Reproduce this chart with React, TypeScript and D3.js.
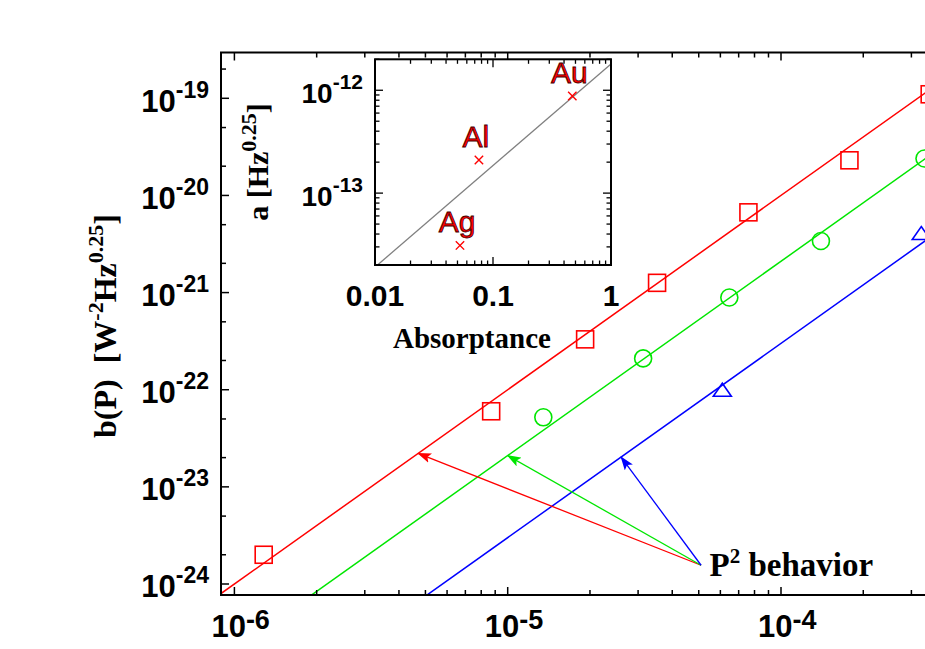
import React, { useRef, useEffect } from "react";
import * as d3 from "d3";

// main plot: b(P) for Au (red squares), Al (green circles), Ag (blue triangles)
const redP = [1.28e-6, 8.7e-6, 1.92e-5, 3.52e-5, 7.6e-5, 1.78e-4, 3.5e-4];
const redB = [2.0e-24, 6.0e-23, 3.3e-22, 1.26e-21, 6.7e-21, 2.3e-20, 1.1e-19];
const greenP = [1.35e-5, 3.13e-5, 6.47e-5, 1.4e-4, 3.35e-4];
const greenB = [5.2e-23, 2.1e-22, 8.9e-22, 3.4e-21, 2.4e-20];
const blueP = [6.1e-5, 3.26e-4];
const blueB = [1.0e-22, 4.1e-21];

// P^2 fits, b = coef * P^2
const fitCoef = [1.0e-12, 2.1e-13, 3.0e-14];
const arrowTipP = [4.7e-6, 1.0e-5, 2.6e-5];
const arrowFromP = 5.1e-5;
const arrowFromB = 1.56e-24;

const xTickExp = [-6, -5, -4];
const yTickExp = [-19, -20, -21, -22, -23, -24];

// inset: a vs absorptance
const metals = ["Ag", "Al", "Au"];
const absorptance = [0.0525, 0.076, 0.47];
const aValue = [3.1e-14, 2.1e-13, 8.8e-13];
const insetFitA = [0.0105, 1];
const insetFitVal = [2.0e-14, 1.8e-12];
const insetXTicks = [0.01, 0.1, 1];
const insetYExp = [-12, -13];

const colors = ["#ff0000", "#00e600", "#0000ff"];

function App() {
  const svgRef = useRef(null);

  useEffect(() => {
    const svg = d3.select(svgRef.current);
    svg.selectAll("*").remove();

    const sans = "'Liberation Sans', Arial, sans-serif";
    const serif = "'Liberation Serif', 'Times New Roman', serif";

    /* ---------- main scales ---------- */
    const left = 221, top = 52.5, bottom = 595, right = 980;
    const x = d3.scaleLog().domain([1e-6, 1e-4]).range([234.4, 781]);
    const y = d3.scaleLog().domain([1e-24, 1e-19]).range([584, 98.3]);

    const defs = svg.append("defs");
    defs
      .append("clipPath")
      .attr("id", "plot-clip")
      .append("rect")
      .attr("x", left)
      .attr("y", top)
      .attr("width", right - left)
      .attr("height", bottom - top);

    colors.forEach((c, i) => {
      defs
        .append("marker")
        .attr("id", `arrow-${i}`)
        .attr("markerUnits", "userSpaceOnUse")
        .attr("viewBox", "0 0 14 10")
        .attr("refX", 13)
        .attr("refY", 5)
        .attr("markerWidth", 14)
        .attr("markerHeight", 10)
        .attr("orient", "auto")
        .append("path")
        .attr("d", "M0,0 L14,5 L0,10 L3,5 Z")
        .attr("fill", c);
    });

    const powLabel = (g, px, py, exp, o) => {
      const t = g
        .append("text")
        .attr("x", px)
        .attr("y", py)
        .attr("text-anchor", o.anchor)
        .attr("font-family", sans)
        .attr("font-weight", "bold")
        .attr("fill", "#000");
      t.append("tspan").attr("font-size", o.base).text("10");
      t.append("tspan")
        .attr("font-size", o.sup)
        .attr("dy", -o.rise)
        .text(`-${Math.abs(exp)}`);
    };

    /* ---------- fit lines ---------- */
    const plot = svg.append("g").attr("clip-path", "url(#plot-clip)");
    const pEnds = [x.invert(left), x.invert(right)];
    fitCoef.forEach((k, i) => {
      const line = d3
        .line()
        .x((p) => x(p))
        .y((p) => y(k * p * p));
      plot
        .append("path")
        .attr("d", line(pEnds))
        .attr("fill", "none")
        .attr("stroke", colors[i])
        .attr("stroke-width", 1.5);
    });

    /* ---------- markers ---------- */
    const s = 8.5;
    svg
      .append("g")
      .selectAll("rect")
      .data(redP.map((p, i) => [p, redB[i]]))
      .enter()
      .append("rect")
      .attr("x", (d) => x(d[0]) - s)
      .attr("y", (d) => y(d[1]) - s)
      .attr("width", 2 * s)
      .attr("height", 2 * s)
      .attr("fill", "none")
      .attr("stroke", colors[0])
      .attr("stroke-width", 1.6);

    svg
      .append("g")
      .selectAll("circle")
      .data(greenP.map((p, i) => [p, greenB[i]]))
      .enter()
      .append("circle")
      .attr("cx", (d) => x(d[0]))
      .attr("cy", (d) => y(d[1]))
      .attr("r", s)
      .attr("fill", "none")
      .attr("stroke", colors[1])
      .attr("stroke-width", 1.6);

    svg
      .append("g")
      .selectAll("path")
      .data(blueP.map((p, i) => [p, blueB[i]]))
      .enter()
      .append("path")
      .attr("transform", (d) => `translate(${x(d[0])},${y(d[1])})`)
      .attr("d", "M0,-6.5 L9,6.5 L-9,6.5 Z")
      .attr("fill", "none")
      .attr("stroke", colors[2])
      .attr("stroke-width", 1.6);

    /* ---------- arrows + annotation ---------- */
    const ox = x(arrowFromP), oy = y(arrowFromB);
    arrowTipP.forEach((p, i) => {
      svg
        .append("line")
        .attr("x1", ox)
        .attr("y1", oy)
        .attr("x2", x(p))
        .attr("y2", y(fitCoef[i] * p * p))
        .attr("stroke", colors[i])
        .attr("stroke-width", 1.3)
        .attr("marker-end", `url(#arrow-${i})`);
    });
    const ann = svg
      .append("text")
      .attr("x", ox + 8.5)
      .attr("y", oy + 11)
      .attr("font-family", serif)
      .attr("font-weight", "bold")
      .attr("font-size", 33);
    ann.append("tspan").text("P");
    ann.append("tspan").attr("font-size", 21).attr("dy", -13).text("2");
    ann.append("tspan").attr("dy", 13).text("\u00a0behavior");

    /* ---------- main frame + ticks ---------- */
    svg
      .append("rect")
      .attr("x", left)
      .attr("y", top)
      .attr("width", right - left)
      .attr("height", bottom - top)
      .attr("fill", "none")
      .attr("stroke", "#000")
      .attr("stroke-width", 2);

    const xTicks = [];
    d3.range(-7, -2).forEach((e) =>
      d3.range(1, 10).forEach((m) => {
        const v = m * Math.pow(10, e);
        if (x(v) > left + 1 && x(v) < 930) xTicks.push({ v, major: m === 1 });
      })
    );
    const yTicks = [];
    d3.range(-25, -18).forEach((e) =>
      [1, 2, 5].forEach((m) => {
        const v = m * Math.pow(10, e);
        if (y(v) > top + 1 && y(v) < bottom - 1) yTicks.push({ v, major: m === 1 });
      })
    );

    const tickG = svg.append("g").attr("stroke", "#000").attr("stroke-width", 1.5);
    xTicks.forEach((t) => {
      const len = t.major ? 8 : 5;
      tickG.append("line").attr("x1", x(t.v)).attr("x2", x(t.v)).attr("y1", bottom).attr("y2", bottom - len);
      tickG.append("line").attr("x1", x(t.v)).attr("x2", x(t.v)).attr("y1", top).attr("y2", top + len);
    });
    yTicks.forEach((t) => {
      const len = t.major ? 8 : 5;
      tickG.append("line").attr("x1", left).attr("x2", left + len).attr("y1", y(t.v)).attr("y2", y(t.v));
    });

    xTickExp.forEach((e) =>
      powLabel(svg, x(Math.pow(10, e)) - 23, 637, e, { anchor: "start", base: 31, sup: 27, rise: 8 })
    );
    yTickExp.forEach((e) =>
      powLabel(svg, 209, y(Math.pow(10, e)) + 13.4, e, { anchor: "end", base: 31, sup: 23, rise: 14 })
    );

    const yTitle = svg
      .append("text")
      .attr("transform", "translate(116,326) rotate(-90)")
      .attr("text-anchor", "middle")
      .attr("font-family", serif)
      .attr("font-weight", "bold")
      .attr("font-size", 32);
    yTitle.append("tspan").text("b(P)\u00a0\u00a0[W");
    yTitle.append("tspan").attr("font-size", 22).attr("dy", -13).text("-2");
    yTitle.append("tspan").attr("dy", 13).text("Hz");
    yTitle.append("tspan").attr("font-size", 22).attr("dy", -13).text("0.25");
    yTitle.append("tspan").attr("dy", 13).text("]");

    /* ---------- inset ---------- */
    const iL = 375, iR = 611, iT = 59.3, iB = 265;
    const xi = d3.scaleLog().domain([0.01, 1]).range([iL, iR]);
    const yi = d3.scaleLog().domain([2e-14, 2e-12]).range([iB, iT]);

    svg
      .append("rect")
      .attr("x", iL)
      .attr("y", iT)
      .attr("width", iR - iL)
      .attr("height", iB - iT)
      .attr("fill", "#fff");

    svg
      .append("path")
      .attr("d", d3.line().x((d) => xi(d[0])).y((d) => yi(d[1]))(insetFitA.map((a, i) => [a, insetFitVal[i]])))
      .attr("stroke", "#808080")
      .attr("stroke-width", 1.3)
      .attr("fill", "none");

    const cr = 4.2;
    absorptance.forEach((a, i) => {
      const cx = xi(a), cy = yi(aValue[i]);
      svg
        .append("path")
        .attr("d", `M${cx - cr},${cy - cr}L${cx + cr},${cy + cr}M${cx - cr},${cy + cr}L${cx + cr},${cy - cr}`)
        .attr("stroke", "#ff0000")
        .attr("stroke-width", 1.4);
      svg
        .append("text")
        .attr("x", cx - 3)
        .attr("y", cy - 13)
        .attr("text-anchor", "middle")
        .attr("font-family", sans)
        .attr("font-size", 30)
        .attr("fill", "#ff0000")
        .attr("stroke", "#400000")
        .attr("stroke-width", 0.8)
        .text(metals[i]);
    });

    svg
      .append("rect")
      .attr("x", iL)
      .attr("y", iT)
      .attr("width", iR - iL)
      .attr("height", iB - iT)
      .attr("fill", "none")
      .attr("stroke", "#000")
      .attr("stroke-width", 2);

    const iTickG = svg.append("g").attr("stroke", "#000").attr("stroke-width", 1.3);
    d3.range(-2, 1).forEach((e) =>
      d3.range(1, 10).forEach((m) => {
        const v = m * Math.pow(10, e);
        if (v > 1) return;
        const len = m === 1 ? 8 : 4.5;
        iTickG.append("line").attr("x1", xi(v)).attr("x2", xi(v)).attr("y1", iB).attr("y2", iB - len);
        iTickG.append("line").attr("x1", xi(v)).attr("x2", xi(v)).attr("y1", iT).attr("y2", iT + len);
      })
    );
    d3.range(-14, -11).forEach((e) =>
      d3.range(1, 10).forEach((m) => {
        const v = m * Math.pow(10, e);
        if (v < 2e-14 || v > 2e-12) return;
        const len = m === 1 ? 8 : 4.5;
        iTickG.append("line").attr("x1", iL).attr("x2", iL + len).attr("y1", yi(v)).attr("y2", yi(v));
        iTickG.append("line").attr("x1", iR).attr("x2", iR - len).attr("y1", yi(v)).attr("y2", yi(v));
      })
    );

    insetXTicks.forEach((v) =>
      svg
        .append("text")
        .attr("x", xi(v))
        .attr("y", 306)
        .attr("text-anchor", "middle")
        .attr("font-family", sans)
        .attr("font-weight", "bold")
        .attr("font-size", 30)
        .text(String(v))
    );
    insetYExp.forEach((e) =>
      powLabel(svg, 363, yi(Math.pow(10, e)) + 13, e, { anchor: "end", base: 28, sup: 21, rise: 14.5 })
    );

    svg
      .append("text")
      .attr("x", 393)
      .attr("y", 347.7)
      .attr("font-family", serif)
      .attr("font-weight", "bold")
      .attr("font-size", 29)
      .text("Absorptance");

    const aTitle = svg
      .append("text")
      .attr("transform", "translate(268,162) rotate(-90)")
      .attr("text-anchor", "middle")
      .attr("font-family", serif)
      .attr("font-weight", "bold")
      .attr("font-size", 30);
    aTitle.append("tspan").text("a\u00a0[Hz");
    aTitle.append("tspan").attr("font-size", 22).attr("dy", -12).text("0.25");
    aTitle.append("tspan").attr("dy", 12).text("]");
  }, []);

  return (
    <div style={{ width: 925, height: 649 }}>
      <svg
        ref={svgRef}
        width={925}
        height={649}
        style={{ position: "absolute", left: 0, top: 0, background: "#fff" }}
      />
    </div>
  );
}

export default App;
